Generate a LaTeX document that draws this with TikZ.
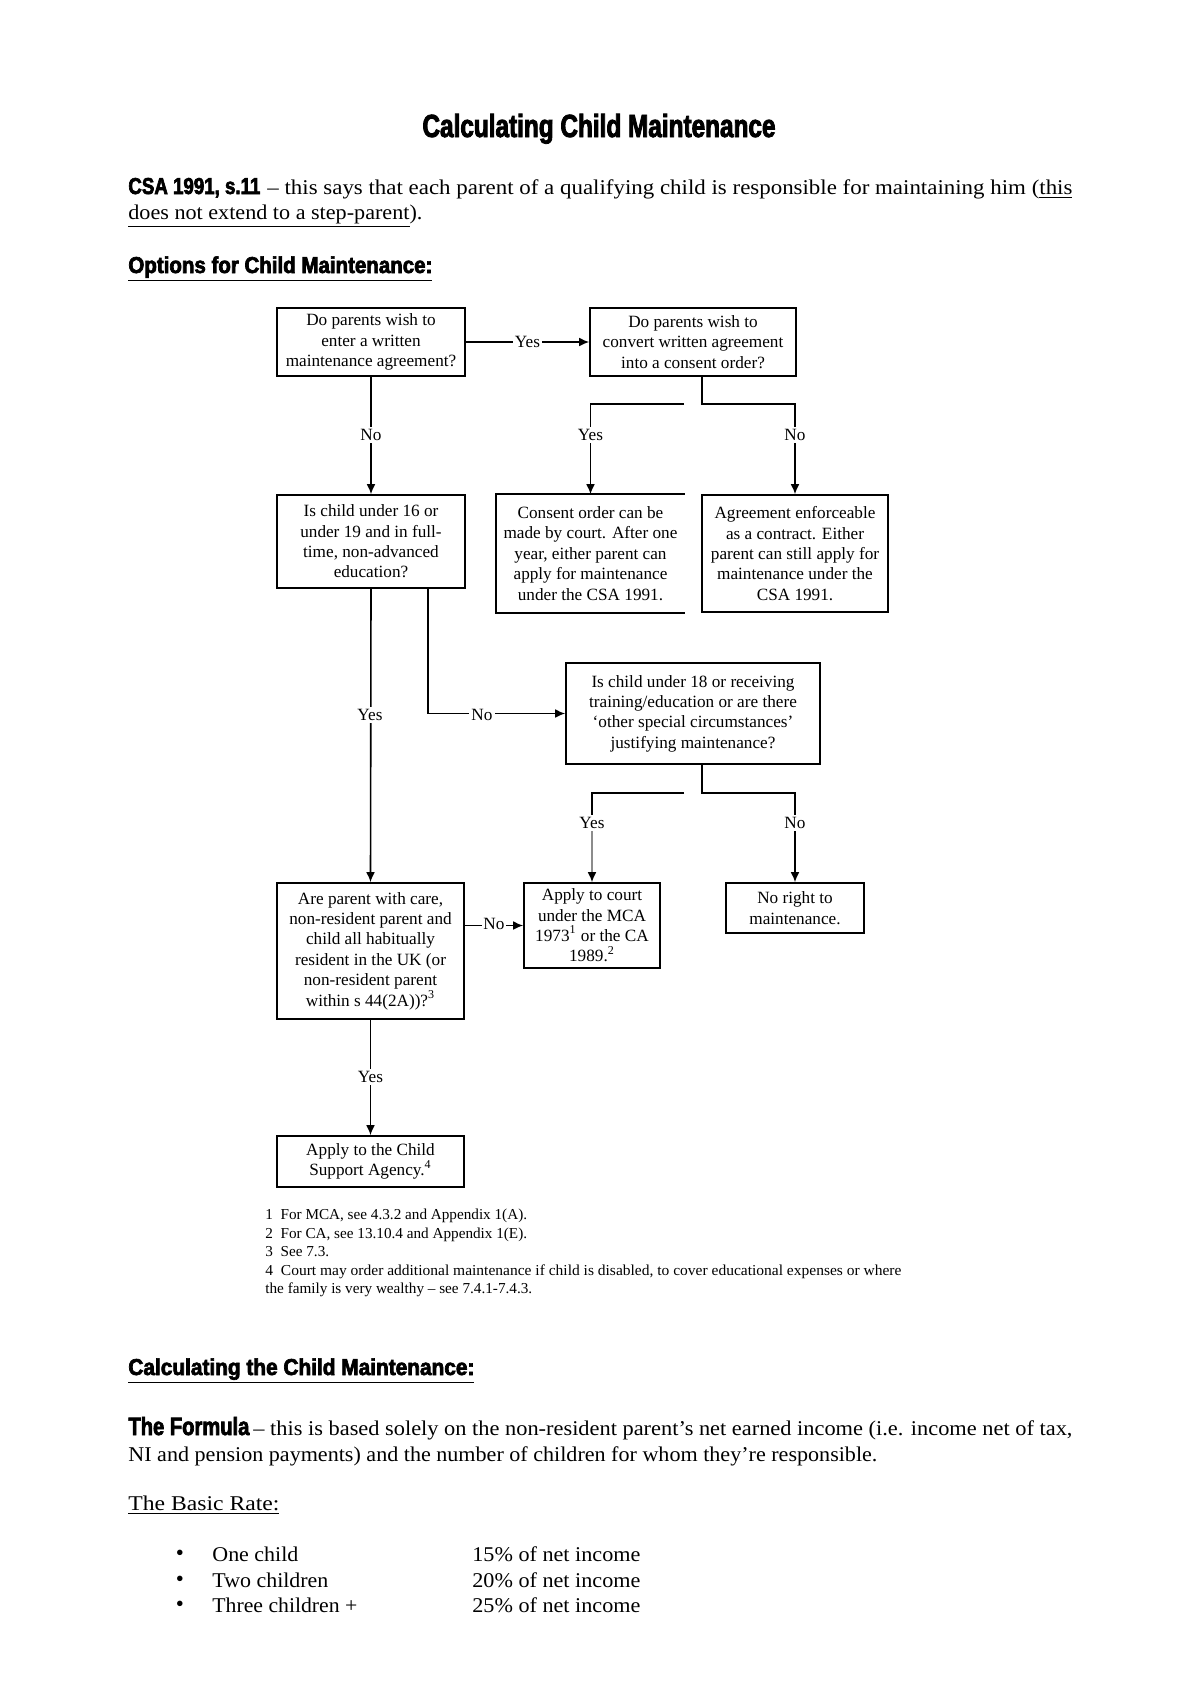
\documentclass[tikz,border=0pt]{standalone}
\usepackage{fontspec}
\setmainfont{Liberation Serif}
\newfontfamily\hdfont[FakeStretch=0.75,BoldFeatures={FakeBold=2.6}]{Liberation Sans}
\usetikzlibrary{arrows.meta,calc}
\newcommand{\fitto}[2]{\resizebox{#1}{\height}{#2}}
\tikzset{
  fcbox/.style={draw, line width=0.8pt, inner sep=0pt, align=center,
    font=\fontsize{8.6}{10.2}\selectfont},
  conn/.style={line width=0.8pt},
  arr/.style={line width=0.8pt, -{Latex[length=5pt,width=4.4pt]}},
  lbl/.style={fill=white, inner sep=1.2pt, font=\fontsize{8.6}{10.2}\selectfont},
  bodytxt/.style={anchor=base west, inner sep=0pt, font=\fontsize{10.5}{12.5}\selectfont},
  hdtxt/.style={anchor=base west, inner sep=0pt, font=\fontsize{11.5}{13}\hdfont\bfseries},
  fntxt/.style={anchor=base west, inner sep=0pt, font=\fontsize{7.6}{9}\selectfont},
  bul/.style={anchor=base, inner sep=0pt, font=\fontsize{11.5}{11.5}\selectfont},
}
\begin{document}
\begin{tikzpicture}[x=0.5pt,y=-0.5pt]
\useasboundingbox[fill=white] (0,0) rectangle (1200,1698);

% ---------- heading text ----------
\node[anchor=base, inner sep=0pt, font=\fontsize{16}{18}\hdfont\bfseries] (title) at (599,137)
  {\fitto{176.5pt}{Calculating Child Maintenance}};
\node[hdtxt] (csa) at (128,194) {\fitto{66pt}{CSA 1991, s.11}};
\node[bodytxt] (csatxt) at (267,194)
  {\fitto{402.5pt}{– this says that each parent of a qualifying child is responsible for maintaining him (\underline{this}}};
\node[bodytxt] (csatxt2) at (128,219)
  {\fitto{147pt}{\underline{does not extend to a step-parent}).}};
\node[hdtxt] (opt) at (128,273) {\fitto{152pt}{\underline{Options for Child Maintenance:}}};

% ---------- flowchart boxes ----------
\node[fcbox, minimum width=94pt, minimum height=34pt] (A) at (371,342)
  {Do parents wish to\\ enter a written\\ maintenance agreement?};
\node[fcbox, minimum width=103pt, minimum height=34pt] (B) at (693,342)
  {Do parents wish to\\ convert written agreement\\ into a consent order?};
\node[fcbox, minimum width=94pt, minimum height=46.5pt] (C) at (371,541.5)
  {Is child under 16 or\\ under 19 and in full-\\ time, non-advanced\\ education?};
\node[fcbox, draw=none, minimum width=93.5pt, minimum height=58.5pt] (D) at (590.5,553.5)
  {Consent order can be\\ made by court. After one\\ year, either parent can\\ apply for maintenance\\ under the CSA 1991.};
\draw[conn] (D.north east) -- (D.north west) -- (D.south west) -- (D.south east);
\node[fcbox, minimum width=93pt, minimum height=58.5pt] (E) at (795,553.5)
  {Agreement enforceable\\ as a contract. Either\\ parent can still apply for\\ maintenance under the\\ CSA 1991.};
\node[fcbox, minimum width=127pt, minimum height=50.5pt] (F) at (693,713.5)
  {Is child under 18 or receiving\\ training/education or are there\\ ‘other special circumstances’\\ justifying maintenance?};
\node[fcbox, minimum width=68pt, minimum height=42.5pt] (G) at (592,925.5)
  {Apply to court\\ under the MCA\\ 1973\textsuperscript{1} or the CA\\ 1989.\textsuperscript{2}};
\node[fcbox, minimum width=93.5pt, minimum height=68pt] (H) at (370.5,951)
  {Are parent with care,\\ non-resident parent and\\ child all habitually\\ resident in the UK (or\\ non-resident parent\\ within s 44(2A))?\textsuperscript{3}};
\node[fcbox, minimum width=69pt, minimum height=25pt] (I) at (795,908)
  {No right to\\ maintenance.};
\node[fcbox, minimum width=93.5pt, minimum height=25.5pt] (J) at (370.5,1161.5)
  {Apply to the Child\\ Support Agency.\textsuperscript{4}};

% ---------- connectors ----------
\coordinate (bj) at (702,404);
\coordinate (bl) at (684,404);
\coordinate (cf) at (428,600);
\coordinate (fj) at (702,793);
\coordinate (fl) at (684,793);
\coordinate (gy) at (592,823);

\draw[arr] (A.east) -- (B.west);
\draw[arr] (A.south) -- (C.north);
\draw[arr] (B.south -| bj) -- (bj) -| (E.north);
\draw[arr] (bl) -| (D.north);
\draw[arr] (C.south -| cf) |- (F.west);
\draw[arr] (C.south) -- (H.north);
\draw[arr] (F.south -| fj) -- (fj) -| (I.north);
\draw[conn] (fl) -| (gy);
\draw[line width=0.8pt, draw=black!45, -{Latex[length=5pt,width=4.4pt,color=black]}] (gy) -- (G.north);
\draw[arr] (H.east |- G.west) -- (G.west);
\draw[arr] (H.south) -- (J.north);

% ---------- connector labels ----------
\node[lbl] (l1) at (527.5,342) {Yes};
\node[lbl] (l2) at (371,435) {No};
\node[lbl] (l3) at (590.5,435) {Yes};
\node[lbl] (l4) at (795,435) {No};
\node[lbl] (l5) at (482,715) {No};
\node[lbl] (l6) at (370,715) {Yes};
\node[lbl] (l7) at (592,823) {Yes};
\node[lbl] (l8) at (795,823) {No};
\node[lbl, inner sep=0.6pt] (l9) at (494,924) {No};
\node[lbl] (l10) at (370.5,1077) {Yes};

% ---------- footnotes ----------
\node[fntxt] (fn1) at (265,1219) {1\enspace For MCA, see 4.3.2 and Appendix 1(A).};
\node[fntxt] (fn2) at (265,1238) {2\enspace For CA, see 13.10.4 and Appendix 1(E).};
\node[fntxt] (fn3) at (265,1256) {3\enspace See 7.3.};
\node[fntxt] (fn4) at (265,1275) {\fitto{318pt}{4\enspace Court may order additional maintenance if child is disabled, to cover educational expenses or where}};
\node[fntxt] (fn5) at (265,1293) {the family is very wealthy – see 7.4.1-7.4.3.};

% ---------- lower text ----------
\node[hdtxt] (calc) at (128,1375) {\fitto{173pt}{\underline{Calculating the Child Maintenance:}}};
\node[hdtxt, font=\fontsize{12.5}{14}\hdfont\bfseries] (form) at (128,1435) {\fitto{60.5pt}{The Formula}};
\node[bodytxt] (formtxt) at (253,1435)
  {\fitto{409.5pt}{– this is based solely on the non-resident parent’s net earned income (i.e. income net of tax,}};
\node[bodytxt] (formtxt2) at (128,1461)
  {\fitto{374.5pt}{NI and pension payments) and the number of children for whom they’re responsible.}};
\node[bodytxt] (basic) at (128,1510) {\fitto{75.5pt}{\underline{The Basic Rate:}}};

\node[bul] (b1) at (180,1560) {•};
\node[bodytxt] (r1) at (212,1561) {\fitto{43pt}{One child}};
\node[bodytxt] (p1) at (472,1561) {\fitto{84pt}{15\% of net income}};
\node[bul] (b2) at (180,1586) {•};
\node[bodytxt] (r2) at (212,1587) {\fitto{58pt}{Two children}};
\node[bodytxt] (p2) at (472,1587) {\fitto{84pt}{20\% of net income}};
\node[bul] (b3) at (180,1611) {•};
\node[bodytxt] (r3) at (212,1612) {\fitto{72.5pt}{Three children +}};
\node[bodytxt] (p3) at (472,1612) {\fitto{84pt}{25\% of net income}};
\end{tikzpicture}
\end{document}
